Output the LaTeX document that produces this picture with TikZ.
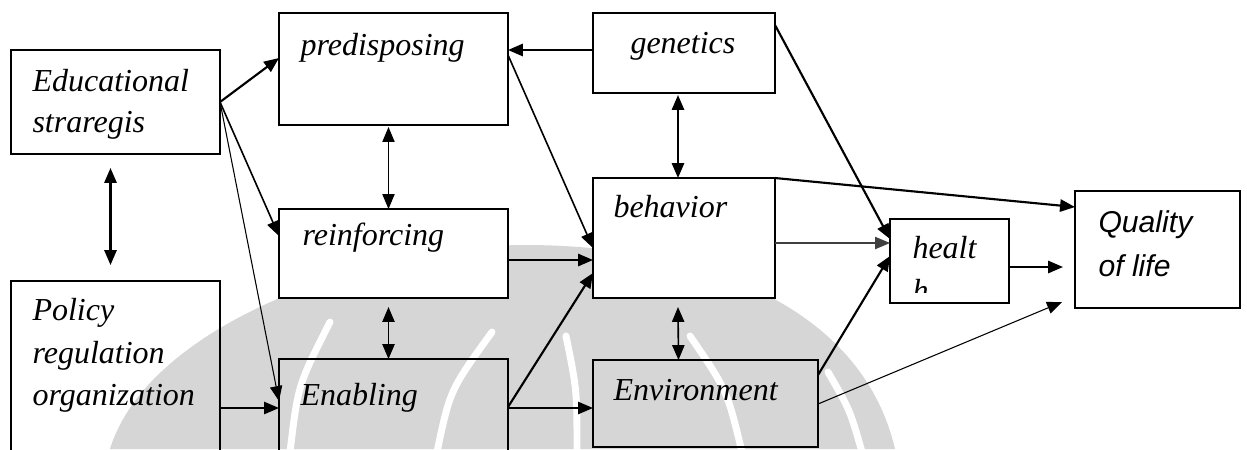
\documentclass[tikz,border=0pt]{standalone}
\usepackage{fontspec}
\setmainfont{Liberation Serif}
\newfontfamily\arialfont{Liberation Sans}
\usetikzlibrary{arrows.meta,calc,fit}
\definecolor{wm}{gray}{0.84}
\begin{document}
\begin{tikzpicture}[x=0.375pt,y=-0.375pt,
  box/.style={draw, line width=0.9pt, inner sep=0pt, outer sep=0pt, fill=white},
  openbox/.style={draw, line width=0.9pt, inner sep=0pt, outer sep=0pt},
  lbl/.style={anchor=base west, inner sep=0pt, font=\fontsize{12}{14}\selectfont\itshape},
  qlbl/.style={anchor=base west, inner sep=0pt, font=\fontsize{11.3}{14}\selectfont\arialfont\itshape},
  arr/.style={-{Triangle[length=5.6pt,width=4.6pt]}},
  darr/.style={{Triangle[length=5.6pt,width=4.6pt]}-{Triangle[length=5.6pt,width=4.6pt]}},
  thk/.style={line width=0.8pt},
  med/.style={line width=0.6pt},
  thn/.style={line width=0.4pt},
  stripe/.style={draw=white, line width=2.6pt, line cap=round}
]
\clip (0,0) rectangle (1247,449);
\fill[white] (0,0) rectangle (1247,449);

% faint emblem in the background
\fill[wm] (110,449) .. controls (150,320) and (380,245) .. (525,245)
  .. controls (690,245) and (860,300) .. (895,449) -- cycle;
\path[stripe] (290,452) .. controls (298,385) .. (330,322);
\path[stripe] (437,452) .. controls (450,390) .. (492,332);
\path[stripe] (577,452) .. controls (577,390) .. (566,336);
\path[stripe] (742,452) .. controls (727,390) .. (690,336);
\path[stripe] (862,452) .. controls (850,410) .. (828,372);

% boxes
\node (edu) [box, fit={(11,50) (220,154)}] {};
\node (pred) [box, fit={(279,13) (508,125)}] {};
\node (gen) [box, fit={(593,13) (775,93)}] {};
\node (rei) [box, fit={(279,209) (508,298)}] {};
\node (beh) [box, fit={(593,178) (775,298)}] {};
\node (pol) [openbox, fit={(11,281) (220,480)}] {};
\node (enab) [openbox, fit={(279,359) (508,480)}] {};
\node (env) [openbox, fit={(593,360) (818,447)}] {};
\node (hea) [box, fit={(890,219) (1009,303)}] {};
\node (qua) [box, fit={(1075,191) (1240,308)}] {};

% labels
\node (eduA) [lbl] at (32,91) {Educational};
\node (eduB) [lbl] at (32,132) {straregis};
\node (predT) [lbl] at (300,55) {predisposing};
\node (genT) [lbl] at (630,53) {genetics};
\node (reiT) [lbl] at (302,245) {reinforcing};
\node (behT) [lbl] at (613,217) {behavior};
\node (polA) [lbl] at (32,320) {Policy};
\node (polB) [lbl] at (32,363) {regulation};
\node (polC) [lbl] at (32,405) {organization};
\node (enabT) [lbl] at (300,405) {Enabling};
\node (envT) [lbl] at (613,400) {Environment};
\begin{scope}
  \clip (892,221) rectangle (1007,292);
  \node (heaA) [lbl] at (912,258) {healt};
  \node (heaB) [lbl] at (912,301) {h};
\end{scope}
\node (quaA) [qlbl] at (1098,232) {Quality};
\node (quaB) [qlbl] at (1098,276) {of life};

% free arrow ends near the outcome box
\coordinate (qlow) at ($(qua.south west)+(-13,-6)$);
\coordinate (qmid) at ($(qua.north west)+(-12,76)$);

% connectors
\draw[arr, thk] (edu.east) -- ($(pred.north west)+(0,45)$);
\draw[arr, med] (edu.east) -- ($(rei.north west)+(0,27)$);
\draw[arr, thn] (edu.east) -- ($(enab.north west)+(0,42)$);
\draw[darr, thk] ($(edu.south)+(-5,14)$) -- ($(pol.north)+(-5,-16)$);
\draw[arr, med] ($(pol.north east)+(0,127)$) -- ($(enab.north west)+(0,49)$);
\draw[darr, thn] ($(pred.south)+(-5,2)$) -- ($(rei.north)+(-5,0)$);
\draw[darr, med] ($(rei.south)+(-5,9)$) -- ($(enab.north)+(-5,0)$);
\draw[arr, thk] ($(gen.north west)+(0,37)$) -- ($(pred.north east)+(0,37)$);
\draw[darr, thk] ($(gen.south)+(-6,2)$) -- ($(beh.north)+(-6,0)$);
\draw[arr, med] ($(pred.north east)+(0,42)$) -- ($(beh.north west)+(0,70)$);
\draw[arr, thk] ($(rei.north east)+(0,51)$) -- ($(beh.north west)+(0,82)$);
\draw[arr, thk] ($(enab.north east)+(0,48)$) -- ($(beh.north west)+(0,95)$);
\draw[arr, med] ($(enab.north east)+(0,49)$) -- ($(env.north west)+(0,48)$);
\draw[darr, med] ($(beh.south)+(-6,9)$) -- ($(env.north)+(-27,0)$);
\draw[arr, thk] ($(gen.north east)+(0,12)$) -- ($(hea.north west)+(0,20)$);
\draw[arr, thk] (beh.north east) -- ($(qua.north west)+(0,16)$);
\draw[arr, thn, black!75] ($(beh.north east)+(0,65)$) -- ($(hea.north west)+(0,24)$);
\draw[arr, thk] ($(env.north east)+(0,15)$) -- ($(hea.north west)+(0,37)$);
\draw[arr, thn] ($(env.north east)+(0,44)$) -- (qlow);
\draw[arr, thk] ($(hea.north east)+(0,48)$) -- (qmid);
\end{tikzpicture}
\end{document}
